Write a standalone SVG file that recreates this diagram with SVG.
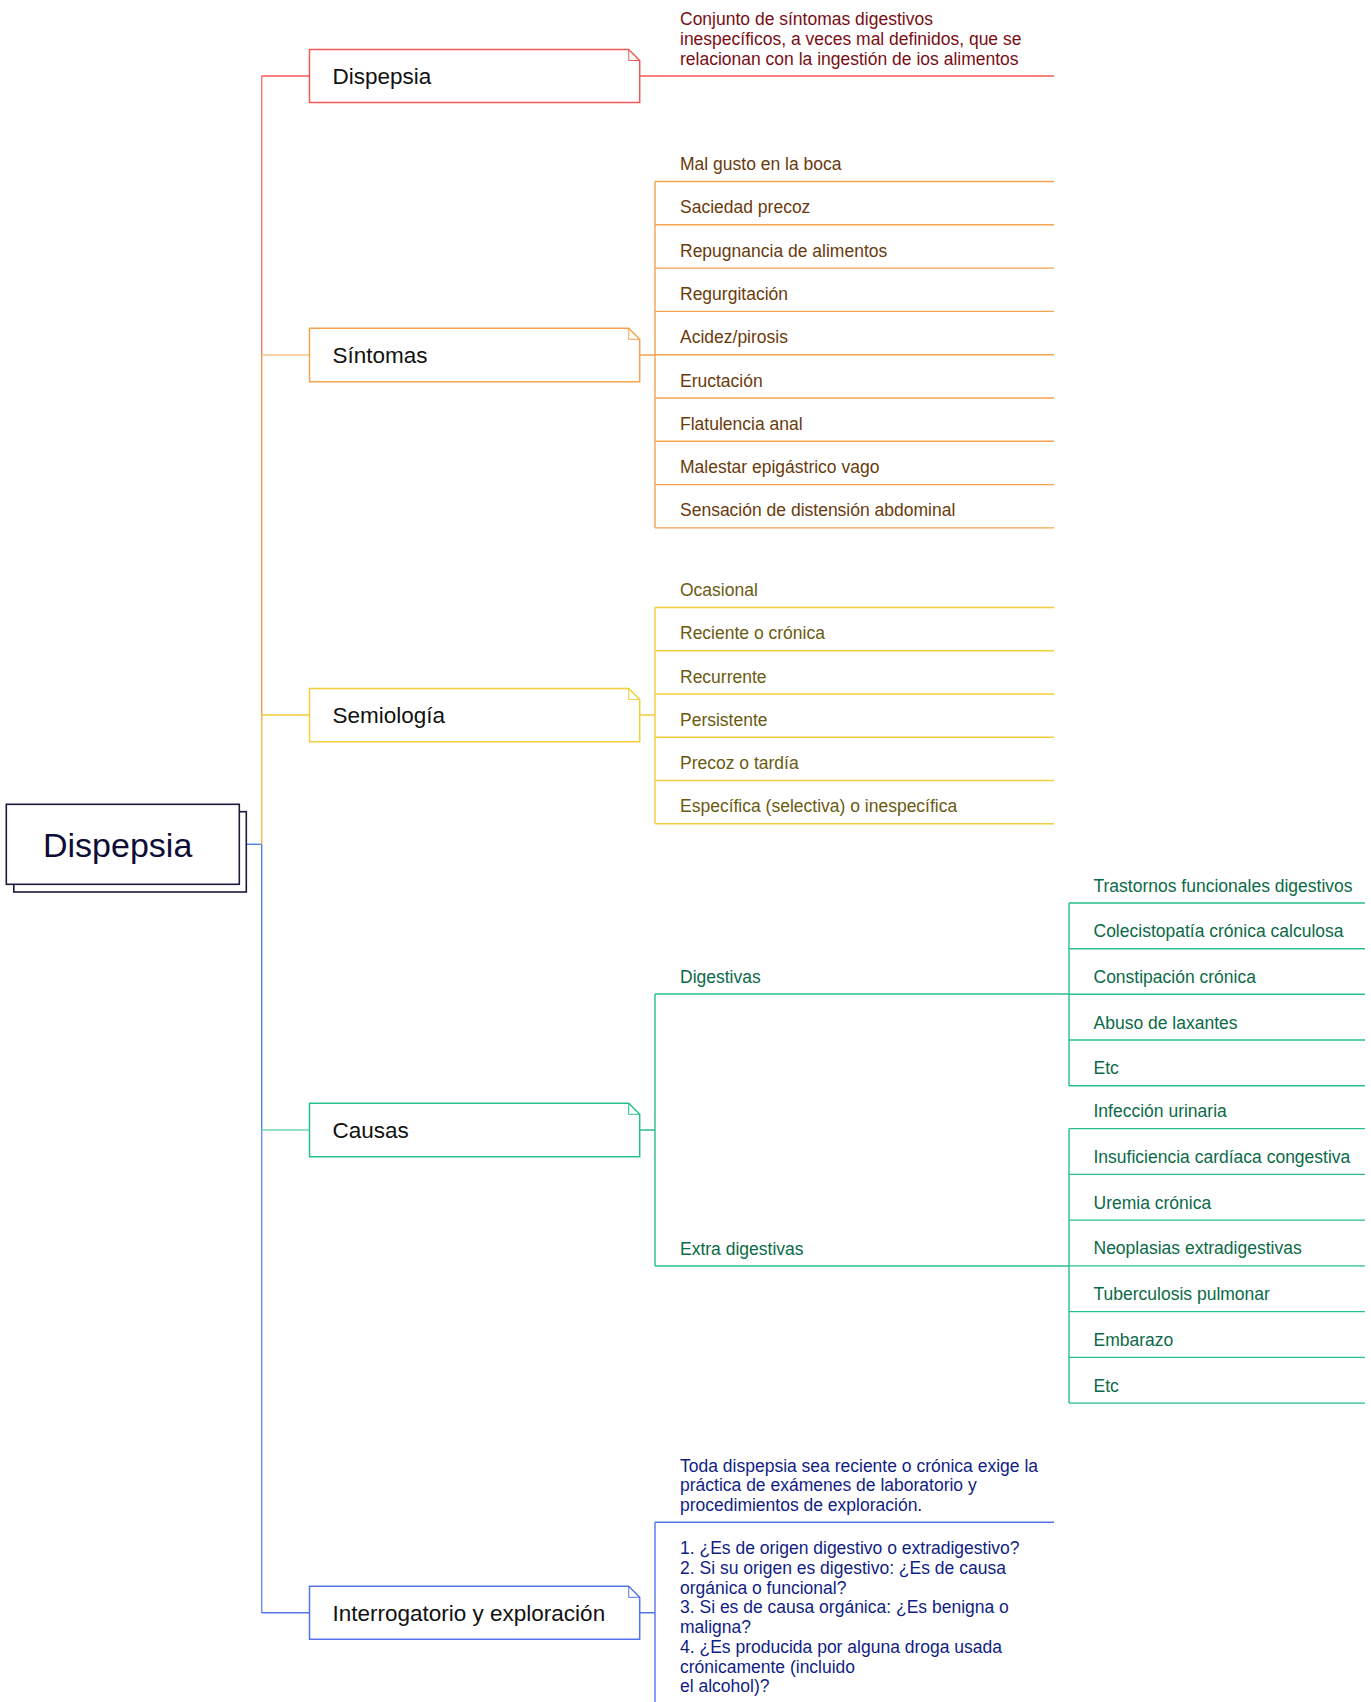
<svg xmlns="http://www.w3.org/2000/svg" width="1371" height="1702" viewBox="0 0 1371 1702">
<style>
  text { font-family: "Liberation Sans", Arial, sans-serif; }
  .lbl { font-size: 22.5px; fill: #111111; }
  .sub { font-size: 17.5px; }
  .ln { fill: none; stroke-width: 1.4; }
  .box { fill: #ffffff; stroke-width: 1.5; }
  .fold { fill: none; stroke-width: 1; }
  .red { stroke: #f25757; } .redt { fill: #7a0d14; }
  .org { stroke: #f5a24e; } .orgt { fill: #6a3b0c; }
  .yel { stroke: #f3cd3a; } .yelt { fill: #6b5a10; }
  .grn { stroke: #27c089; } .grnt { fill: #0b6a47; }
  .blu { stroke: #5474ee; } .blut { fill: #101d84; }
</style>

<g id="connectors">
  <!-- trunk -->
  <path class="ln" d="M246.3,844.3 H261.7" stroke="#4a86e6"/>
  <path class="ln" d="M261.7,76 V355" stroke="#f27676"/>
  <path class="ln" d="M261.7,355 V715" stroke="#f59c50"/>
  <path class="ln" d="M261.7,715 V844.3" stroke="#f5ba3c"/>
  <path class="ln" d="M261.7,844.3 V1130" stroke="#4a86e6"/>
  <path class="ln" d="M261.7,1130 V1613" stroke="#6f88f3"/>
  <path class="ln red" d="M261.7,76 H309.5"/>
  <path class="ln" d="M261.7,355 H309.5" stroke="#f8c28a"/>
  <path class="ln yel" d="M261.7,715 H309.5"/>
  <path class="ln" d="M261.7,1130 H309.5" stroke="#6fd8ad"/>
  <path class="ln blu" d="M261.7,1612.7 H309.5"/>

  <!-- Dispepsia branch -->
  <path class="ln red" d="M639.7,76 H1054"/>

  <!-- Sintomas branch -->
  <path class="ln org" d="M639.7,355 H655 M655,181.5 V527.9"/>
  <path class="ln org" d="M655,181.5 H1054 M655,224.8 H1054 M655,268.1 H1054 M655,311.4 H1054 M655,354.7 H1054 M655,398 H1054 M655,441.3 H1054 M655,484.6 H1054 M655,527.9 H1054"/>

  <!-- Semiologia branch -->
  <path class="ln yel" d="M639.7,715 H655 M655,607.5 V823.8"/>
  <path class="ln yel" d="M655,607.5 H1054 M655,650.8 H1054 M655,694 H1054 M655,737.3 H1054 M655,780.5 H1054 M655,823.8 H1054"/>

  <!-- Causas branch -->
  <path class="ln grn" d="M639.7,1130 H655 M655,994 V1266 M655,994 H1069 M655,1266 H1069"/>
  <path class="ln grn" d="M1069,903 V1085.7 M1069,903 H1365 M1069,948.7 H1365 M1069,994.3 H1365 M1069,1040 H1365 M1069,1085.7 H1365"/>
  <path class="ln grn" d="M1069,1128.6 V1403.1 M1069,1128.6 H1365 M1069,1174.4 H1365 M1069,1220.1 H1365 M1069,1265.9 H1365 M1069,1311.6 H1365 M1069,1357.4 H1365 M1069,1403.1 H1365"/>

  <!-- Interrogatorio branch -->
  <path class="ln blu" d="M639.7,1612.7 H655 M655,1522.3 V1710 M655,1522.3 H1054"/>
</g>

<g id="root">
  <rect x="13.8" y="811.7" width="232.5" height="80.3" fill="#ffffff" stroke="#1a1a3c" stroke-width="1.6"/>
  <rect x="6.3" y="804.3" width="233" height="80" fill="#ffffff" stroke="#1a1a3c" stroke-width="1.6"/>
  <text x="43" y="857.3" font-size="34" fill="#0d0d35">Dispepsia</text>
</g>

<g id="node-dispepsia">
  <path class="box red" d="M309.5,49.5 H628.7 L639.7,60.5 V102.5 H309.5 Z"/>
  <path class="fold red" d="M628.7,49.5 V60.5 H639.7"/>
  <text class="lbl" x="332.5" y="84">Dispepsia</text>
</g>
<g id="desc-dispepsia" class="sub redt">
  <text class="sub redt" x="680" y="25.3">Conjunto de síntomas digestivos</text>
  <text class="sub redt" x="680" y="45.2">inespecíficos, a veces mal definidos, que se</text>
  <text class="sub redt" x="680" y="65">relacionan con la ingestión de ios alimentos</text>
</g>

<g id="node-sintomas">
  <path class="box org" d="M309.5,328.3 H628.7 L639.7,339.3 V381.7 H309.5 Z"/>
  <path class="fold org" d="M628.7,328.3 V339.3 H639.7"/>
  <text class="lbl" x="332.5" y="363">Síntomas</text>
</g>
<g id="items-sintomas">
  <text class="sub orgt" x="680" y="170">Mal gusto en la boca</text>
  <text class="sub orgt" x="680" y="213.3">Saciedad precoz</text>
  <text class="sub orgt" x="680" y="256.6">Repugnancia de alimentos</text>
  <text class="sub orgt" x="680" y="299.9">Regurgitación</text>
  <text class="sub orgt" x="680" y="343.2">Acidez/pirosis</text>
  <text class="sub orgt" x="680" y="386.5">Eructación</text>
  <text class="sub orgt" x="680" y="429.8">Flatulencia anal</text>
  <text class="sub orgt" x="680" y="473.1">Malestar epigástrico vago</text>
  <text class="sub orgt" x="680" y="516.4">Sensación de distensión abdominal</text>
</g>

<g id="node-semiologia">
  <path class="box yel" d="M309.5,688.5 H628.7 L639.7,699.5 V741.8 H309.5 Z"/>
  <path class="fold yel" d="M628.7,688.5 V699.5 H639.7"/>
  <text class="lbl" x="332.5" y="723">Semiología</text>
</g>
<g id="items-semiologia">
  <text class="sub yelt" x="680" y="596">Ocasional</text>
  <text class="sub yelt" x="680" y="639.3">Reciente o crónica</text>
  <text class="sub yelt" x="680" y="682.5">Recurrente</text>
  <text class="sub yelt" x="680" y="725.8">Persistente</text>
  <text class="sub yelt" x="680" y="769">Precoz o tardía</text>
  <text class="sub yelt" x="680" y="812.3">Específica (selectiva) o inespecífica</text>
</g>

<g id="node-causas">
  <path class="box grn" d="M309.5,1103.3 H628.7 L639.7,1114.3 V1156.7 H309.5 Z"/>
  <path class="fold grn" d="M628.7,1103.3 V1114.3 H639.7"/>
  <text class="lbl" x="332.5" y="1138">Causas</text>
</g>
<g id="items-causas">
  <text class="sub grnt" x="680" y="982.5">Digestivas</text>
  <text class="sub grnt" x="680" y="1254.5">Extra digestivas</text>
</g>
<g id="items-digestivas">
  <text class="sub grnt" x="1093.5" y="891.5">Trastornos funcionales digestivos</text>
  <text class="sub grnt" x="1093.5" y="937.2">Colecistopatía crónica calculosa</text>
  <text class="sub grnt" x="1093.5" y="982.8">Constipación crónica</text>
  <text class="sub grnt" x="1093.5" y="1028.5">Abuso de laxantes</text>
  <text class="sub grnt" x="1093.5" y="1074.2">Etc</text>
</g>
<g id="items-extradigestivas">
  <text class="sub grnt" x="1093.5" y="1117.1">Infección urinaria</text>
  <text class="sub grnt" x="1093.5" y="1162.9">Insuficiencia cardíaca congestiva</text>
  <text class="sub grnt" x="1093.5" y="1208.6">Uremia crónica</text>
  <text class="sub grnt" x="1093.5" y="1254.4">Neoplasias extradigestivas</text>
  <text class="sub grnt" x="1093.5" y="1300.1">Tuberculosis pulmonar</text>
  <text class="sub grnt" x="1093.5" y="1345.9">Embarazo</text>
  <text class="sub grnt" x="1093.5" y="1391.6">Etc</text>
</g>

<g id="node-interrogatorio">
  <path class="box blu" d="M309.5,1586.3 H628.7 L639.7,1597.3 V1639.3 H309.5 Z"/>
  <path class="fold blu" d="M628.7,1586.3 V1597.3 H639.7"/>
  <text class="lbl" x="332.5" y="1620.7">Interrogatorio y exploración</text>
</g>
<g id="items-interrogatorio">
  <text class="sub blut" x="680" y="1471.5">Toda dispepsia sea reciente o crónica exige la</text>
  <text class="sub blut" x="680" y="1491">práctica de exámenes de laboratorio y</text>
  <text class="sub blut" x="680" y="1510.5">procedimientos de exploración.</text>
  <text class="sub blut" x="680" y="1554.3">1. ¿Es de origen digestivo o extradigestivo?</text>
  <text class="sub blut" x="680" y="1574">2. Si su origen es digestivo: ¿Es de causa</text>
  <text class="sub blut" x="680" y="1593.7">orgánica o funcional?</text>
  <text class="sub blut" x="680" y="1613.4">3. Si es de causa orgánica: ¿Es benigna o</text>
  <text class="sub blut" x="680" y="1633.1">maligna?</text>
  <text class="sub blut" x="680" y="1652.8">4. ¿Es producida por alguna droga usada</text>
  <text class="sub blut" x="680" y="1672.5">crónicamente (incluido</text>
  <text class="sub blut" x="680" y="1692.2">el alcohol)?</text>
</g>
</svg>
